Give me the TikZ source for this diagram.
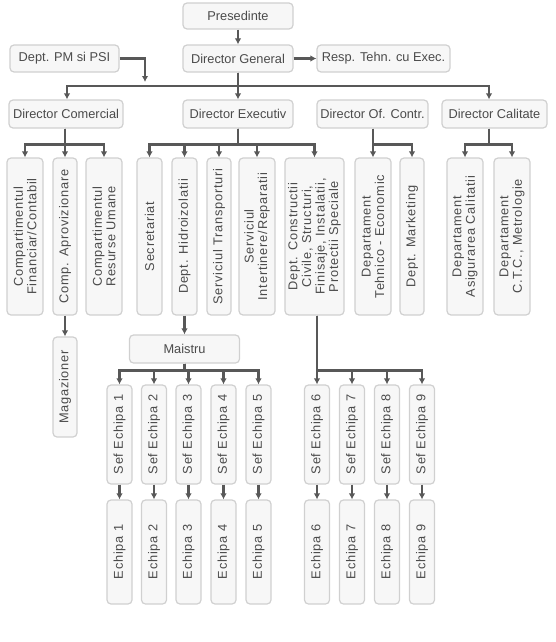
\documentclass[tikz,border=0pt]{standalone}
\usepackage{fontspec}
\setmainfont{Liberation Sans}
\newfontfamily\vertfont[LetterSpace=6]{Liberation Sans}
\usetikzlibrary{arrows.meta}
\definecolor{boxgray}{RGB}{247,247,247}
\definecolor{edgegray}{RGB}{208,208,208}
\definecolor{linkgray}{RGB}{88,88,88}
\definecolor{txtgray}{RGB}{75,75,75}

\begin{document}
\begin{tikzpicture}[x=1pt,y=-1pt,
  hbox/.style={draw=edgegray, fill=boxgray, line width=1.2pt, rounded corners=4pt, inner sep=0pt,
    text=txtgray, font=\fontsize{12.8}{15}\selectfont, minimum height=27pt},
  vbox/.style={hbox, rotate=90, align=center, font=\vertfont\fontsize{12.8}{13.6}\selectfont},
  link/.style={draw=linkgray, line width=2.3pt, -{Latex[length=6pt,width=6.5pt]}}]

\useasboundingbox (0,0) rectangle (556,642);

% top rows
\node[hbox, minimum width=110pt, minimum height=26pt] (pres) at (238,16) {Presedinte};
\node[hbox, minimum width=109pt] (pm) at (64.5,58.5) {Dept. PM si PSI};
\node[hbox, minimum width=110pt] (dg) at (238,58.5) {Director General};
\node[hbox, minimum width=133pt] (resp) at (383.5,58.5) {Resp. Tehn. cu Exec.};

\node[hbox, minimum width=114pt, minimum height=28pt] (dcom) at (66,114) {Director Comercial};
\node[hbox, minimum width=110pt, minimum height=28pt] (dexe) at (238,114) {Director Executiv};
\node[hbox, minimum width=111pt, minimum height=28pt] (doc) at (372.5,114) {Director Of. Contr.};
\node[hbox, minimum width=105pt, minimum height=28pt] (dcal) at (494.5,114) {Director Calitate};

% departments
\node[vbox, minimum width=157pt, minimum height=36pt] (fin) at (25,236.5) {Compartimentul\\Financiar/Contabil};
\node[vbox, minimum width=157pt, minimum height=24pt] (apr) at (65,236.5) {Comp. Aprovizionare};
\node[vbox, minimum width=157pt, minimum height=36pt] (rum) at (104,236.5) {Compartimentul\\Resurse Umane};
\node[vbox, minimum width=157pt, minimum height=25pt] (sec) at (149.5,236.5) {Secretariat};
\node[vbox, minimum width=157pt, minimum height=25pt] (hid) at (184.5,236.5) {Dept. Hidroizolatii};
\node[vbox, minimum width=157pt, minimum height=24pt] (tra) at (219,236.5) {Serviciul Transporturi};
\node[vbox, minimum width=157pt, minimum height=36pt] (int) at (257,236.5) {Serviciul\\Intertinere/Reparatii};
\node[vbox, minimum width=157pt, minimum height=59pt] (con) at (314.5,236.5) {Dept. Constructii\\Civile, Structuri,\\Finisaje, Instalatii,\\Protectii Speciale};
\node[vbox, minimum width=157pt, minimum height=36pt] (teh) at (373,236.5) {Departament\\Tehnico - Economic};
\node[vbox, minimum width=157pt, minimum height=24pt] (mkt) at (412,236.5) {Dept. Marketing};
\node[vbox, minimum width=157pt, minimum height=36pt] (asg) at (465,236.5) {Departament\\Asigurarea Calitatii};
\node[vbox, minimum width=157pt, minimum height=36pt] (ctc) at (512,236.5) {Departament\\C.T.C., Metrologie};

\node[vbox, minimum width=100pt, minimum height=24pt] (mag) at (65,387) {Magazioner};
\node[hbox, minimum width=110pt, minimum height=28pt] (mai) at (184.5,349) {Maistru};

% echipe
\foreach \i/\x in {1/119.5,2/154,3/188.5,4/223.5,5/258.5,6/317,7/352,8/387,9/422}{
  \node[vbox, minimum width=99pt, minimum height=25pt] (se\i) at (\x,434.5) {Sef Echipa \i};
  \node[vbox, minimum width=104pt, minimum height=25pt] (ec\i) at (\x,552) {Echipa \i};
}

% connectors
\draw[link] (pres) -- (dg);
\draw[link] (dg) -- (resp);
\draw[link] (dg) -- (dexe);
\draw[link] (dg.south) -- ++(0,13.5) -| (dcom.north -| 67,0);
\draw[link] (dg.south) -- ++(0,13.5) -| (dcal.north -| 489,0);
\coordinate (pmend) at (145,82);
\draw[link] (pm.east) -| (pmend);

\foreach \n in {fin,apr,rum}
  \draw[link] (dcom.south -| apr.east) -- ++(0,16) -| (\n.east);
\foreach \n in {sec,hid,tra,int,con}
  \draw[link] (dexe.south) -- ++(0,16) -| (\n.east);
\foreach \n in {teh,mkt}
  \draw[link] (doc.south -| teh.east) -- ++(0,16) -| (\n.east);
\foreach \n in {asg,ctc}
  \draw[link] (dcal.south -| 489,0) -- ++(0,16) -| (\n.east);

\draw[link] (apr) -- (mag);
\draw[link] (hid) -- (mai);
\foreach \i in {1,...,5}
  \draw[link] (mai.south) -- ++(0,7) -| (se\i.east);
\foreach \i in {6,...,9}
  \draw[link] (con.west -| se6.east) -- ++(0,55) -| (se\i.east);
\foreach \i in {1,...,9}
  \draw[link] (se\i) -- (ec\i);
\end{tikzpicture}
\end{document}
